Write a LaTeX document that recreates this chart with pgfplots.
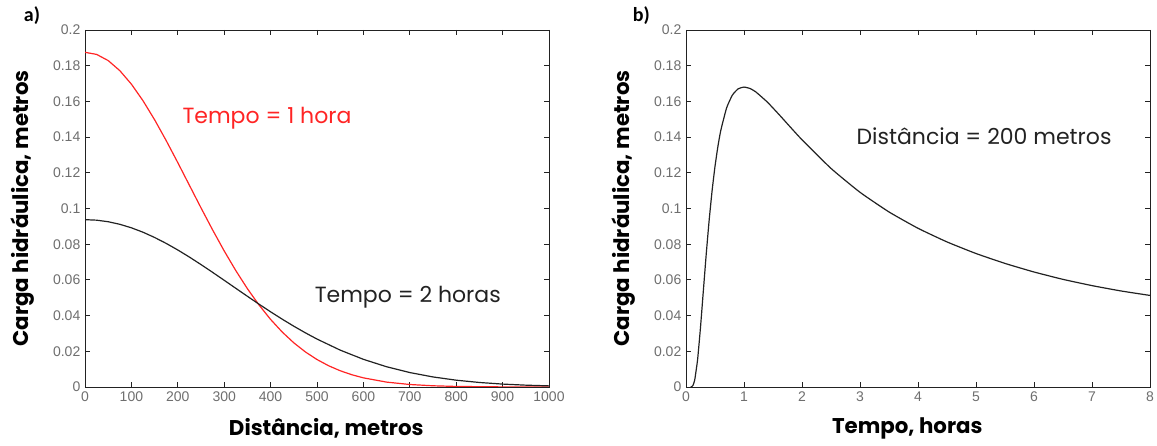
\documentclass[border=0pt]{standalone}
\usepackage{fontspec}
\usepackage{pgfplots}
\pgfplotsset{compat=1.18}
\newfontfamily\tickfont{Liberation Sans}
\newfontfamily\labfont{Poppins}
\newfontfamily\panelfont{Carlito}
\definecolor{curvred}{HTML}{FF2424}
\definecolor{curvblk}{HTML}{222222}
\definecolor{tickgray}{HTML}{6E6E6E}

\pgfplotsset{
  panel/.style={
    scale only axis,
    width=348pt, height=267.75pt,
    ymin=0, ymax=0.2,
    ytick={0,0.02,...,0.2},
    yticklabels={0,0.02,0.04,0.06,0.08,0.1,0.12,0.14,0.16,0.18,0.2},
    axis line style={curvblk, line width=0.6pt},
    tick style={curvblk, line width=0.6pt},
    major tick length=4pt,
    tick align=inside,
    /pgf/number format/assume math mode=true,
    /pgf/number format/1000 sep={},
    tick label style={font=\tickfont\fontsize{10.5}{12}\selectfont, text=tickgray},
    label style={font=\labfont\bfseries\fontsize{16}{18}\selectfont},
    ylabel style={at={(axis description cs:-0.135,0.5)}, anchor=center},
    ylabel={Carga hidráulica, metros},
  }
}

\begin{document}
\begin{tikzpicture}
\path[use as bounding box] (0,0) rectangle (867.75pt,334.5pt);

\begin{axis}[panel,
  at={(63.75pt,44.25pt)}, anchor=south west,
  xmin=0, xmax=1000,
  xtick={0,100,...,1000},
  xlabel={Distância, metros},
  xlabel style={at={(axis description cs:0.52,-0.115)}, anchor=center},
]
% tempo = 1 hora
\addplot[curvred, line width=0.9pt] coordinates {
(0,0.1875) (25,0.18633) (50,0.18287) (75,0.17724) (100,0.16966)
(125,0.16038) (150,0.14972) (175,0.13804) (200,0.12568) (225,0.11302)
(250,0.10036) (275,0.08802) (300,0.07623) (325,0.06521) (350,0.05508)
(375,0.04595) (400,0.03786) (425,0.03080) (450,0.02475) (475,0.01964)
(500,0.01539) (525,0.01191) (550,0.00910) (575,0.00687) (600,0.00512)
(650,0.00274) (700,0.00140) (750,0.00068) (800,0.00031) (900,0.00006)
(1000,0.0)
};
% tempo = 2 horas
\addplot[curvblk, line width=0.9pt] coordinates {
(0,0.09375) (25,0.09346) (50,0.09259) (75,0.09115) (100,0.08918)
(125,0.08671) (150,0.08377) (175,0.08044) (200,0.07676) (225,0.07279)
(250,0.06859) (275,0.06423) (300,0.05978) (325,0.05529) (350,0.05082)
(375,0.04641) (400,0.04212) (425,0.03800) (450,0.03406) (475,0.03034)
(500,0.02686) (550,0.02066) (600,0.01550) (650,0.01134) (700,0.00809)
(750,0.00563) (800,0.00382) (850,0.00253) (900,0.00163) (950,0.00103)
(1000,0.00063)
};
\node[anchor=west, text=curvred, font=\labfont\fontsize{16.5}{18}\selectfont]
  at (axis cs:200,0.1507) {Tempo = 1 hora};
\node[anchor=west, text=curvblk, font=\labfont\fontsize{16.5}{18}\selectfont]
  at (axis cs:485,0.0504) {Tempo = 2 horas};
\end{axis}

\begin{axis}[panel,
  at={(514.5pt,44.25pt)}, anchor=south west,
  xmin=0, xmax=8,
  xtick={0,1,...,8},
  xlabel={Tempo, horas},
  xlabel style={at={(axis description cs:0.477,-0.115)}, anchor=center},
]
\addplot[curvblk, line width=0.9pt, smooth, tension=0.3] coordinates {
(0.08,0.0) (0.1,0.00021) (0.12,0.00092) (0.15,0.00388) (0.2,0.01539)
(0.25,0.03346) (0.3,0.0543) (0.35,0.07494) (0.4,0.09372) (0.45,0.10998)
(0.5,0.12361) (0.55,0.13477) (0.6,0.14376) (0.7,0.15636) (0.8,0.16356)
(0.9,0.16705) (1.0,0.16801) (1.1,0.16727) (1.2,0.16540) (1.4,0.15969)
(1.6,0.15278) (1.8,0.14557) (2.0,0.13850) (2.5,0.12245) (3.0,0.10908)
(3.5,0.09806) (4.0,0.08892) (4.5,0.08127) (5.0,0.07478) (5.5,0.06923)
(6.0,0.06443) (6.5,0.06030) (7.0,0.05680) (7.5,0.05380) (8.0,0.05130)
};
\node[anchor=west, text=curvblk, font=\labfont\fontsize{16.5}{18}\selectfont]
  at (axis cs:2.86,0.1406) {Distância = 200 metros};
\end{axis}

\node[font=\panelfont\bfseries\fontsize{15}{17}\selectfont, anchor=center]
  at (24pt,322.5pt) {a)};
\node[font=\panelfont\bfseries\fontsize{15}{17}\selectfont, anchor=center]
  at (481pt,322.5pt) {b)};
\end{tikzpicture}
\end{document}
